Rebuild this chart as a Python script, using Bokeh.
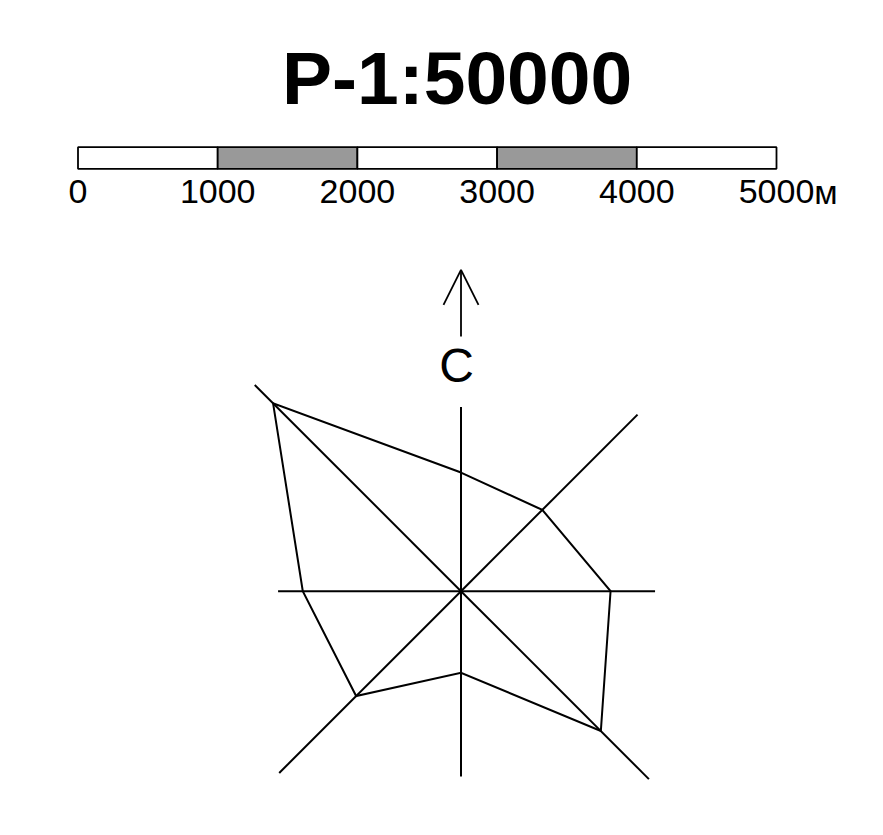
import math
from bokeh.plotting import figure
from bokeh.models import Range1d, Label, Arrow, OpenHead, ColumnDataSource
from bokeh.layouts import column
from bokeh.embed import file_html
from bokeh.resources import INLINE
from bokeh.core.properties import value

# ---------------- data ----------------
title_text = "Р-1:50000"
scale_ticks = [0, 1000, 2000, 3000, 4000, 5000]
scale_labels = ["0", "1000", "2000", "3000", "4000", "5000"]
scale_unit = "м"
segment_colors = ["#ffffff", "#999999", "#ffffff", "#999999", "#ffffff"]

directions = ["С", "СВ", "В", "ЮВ", "Ю", "ЮЗ", "З", "СЗ"]
bearings = [0, 45, 90, 135, 180, 225, 270, 315]
rose_values = [9.6, 9.3, 12.1, 16.0, 6.6, 12.0, 12.8, 21.5]
spoke_lengths = [14.9, 20.2, 15.7, 21.5, 15.0, 20.8, 14.8, 23.6]
north_label = "С"

# ---------------- layout constants ----------------
W = 867
H_TOP = 220
H_ROSE = 599
FONT = "Liberation Sans"
INK = "#000000"

# ---------------- top: title + scale bar ----------------
px_per_m = (776.0 - 77.5) / 5000.0
x0_px = 77.5
top = figure(width=W, height=H_TOP,
             x_range=Range1d(-x0_px / px_per_m, (W - x0_px) / px_per_m),
             y_range=Range1d(H_TOP, 0),
             output_backend="svg", toolbar_location=None,
             x_axis_location=None, y_axis_location=None,
             min_border=0, outline_line_color=None,
             background_fill_color="white", border_fill_color="white")
top.grid.visible = False

bar_src = ColumnDataSource(dict(left=scale_ticks[:-1], right=scale_ticks[1:],
                                color=segment_colors))
top.quad(left="left", right="right", top=146.7, bottom=168.3,
         fill_color="color", line_color=INK, line_width=1.8, source=bar_src)

top.text(x=scale_ticks, y=[191.4] * len(scale_ticks), text=scale_labels,
         text_align="center", text_baseline="alphabetic",
         text_font=value(FONT), text_font_size="34px", text_color=INK)
top.text(x=[scale_ticks[-1]], y=[191.4], text=[scale_unit], x_offset=37.8,
         text_align="left", text_baseline="alphabetic",
         text_font=value(FONT), text_font_size="34px", text_color=INK)

top.add_layout(Label(x=456.6, y=77.8, x_units="screen", y_units="data",
                     text=title_text, text_font=FONT, text_font_size="75px",
                     text_font_style="bold", text_align="center",
                     text_baseline="alphabetic", text_color=INK))

# ---------------- bottom: wind rose ----------------
ppu = 12.36
cx, cy = 460.5, 370.7
rose = figure(width=W, height=H_ROSE,
              x_range=Range1d(-cx / ppu, (W - cx) / ppu),
              y_range=Range1d(-(H_ROSE - cy) / ppu, cy / ppu),
              output_backend="svg", toolbar_location=None,
              x_axis_location=None, y_axis_location=None,
              min_border=0, outline_line_color=None,
              background_fill_color="white", border_fill_color="white")
rose.grid.visible = False

rad = [math.radians(b) for b in bearings]
sx = [L * math.sin(a) for L, a in zip(spoke_lengths, rad)]
sy = [L * math.cos(a) for L, a in zip(spoke_lengths, rad)]
rose.segment(x0=[0] * len(sx), y0=[0] * len(sy), x1=sx, y1=sy,
             line_color=INK, line_width=2)

vx = [v * math.sin(a) for v, a in zip(rose_values, rad)]
vy = [v * math.cos(a) for v, a in zip(rose_values, rad)]
rose.patch(x=vx + [vx[0]], y=vy + [vy[0]], fill_color=None, fill_alpha=0,
           line_color=INK, line_width=2, line_join="miter")

arrow_base = 20.6
arrow_tip = 26.0
rose.add_layout(Arrow(end=OpenHead(size=35, line_width=1.8, line_color=INK),
                      x_start=0, y_start=arrow_base, x_end=0, y_end=arrow_tip,
                      line_width=1.8, line_color=INK))
rose.text(x=[-0.36], y=[18.24], text=[north_label], text_align="center",
          text_baseline="alphabetic", text_font=value(FONT),
          text_font_size="48px", text_color=INK)

layout = column(top, rose, spacing=0)
open("out.html", "w").write(file_html(layout, INLINE))
